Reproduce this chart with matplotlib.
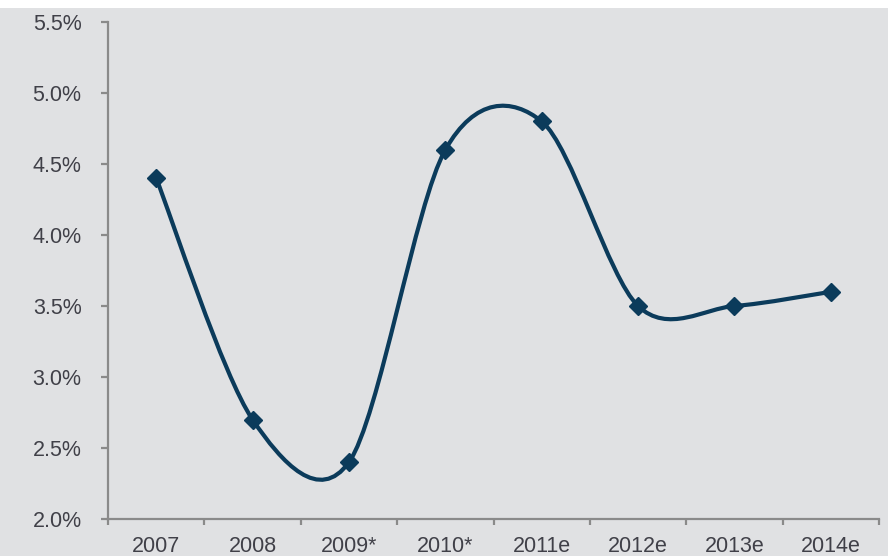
import numpy as np
import matplotlib.pyplot as plt
from matplotlib.path import Path
from matplotlib.patches import PathPatch, Rectangle
from matplotlib.ticker import FixedLocator, FuncFormatter

plt.rcParams['font.family'] = ['Liberation Sans', 'DejaVu Sans']

# Data
years = ['2007', '2008', '2009*', '2010*', '2011e', '2012e', '2013e', '2014e']
growth = [4.4, 2.7, 2.4, 4.6, 4.8, 3.5, 3.5, 3.6]

bg = '#e0e1e3'
navy = '#0b3b5b'
axis_gray = '#8a8a8a'
text_col = '#404048'

fig = plt.figure(figsize=(8.88, 5.56), dpi=100, facecolor=bg)
ax = fig.add_axes([108 / 888, 37 / 556, 771 / 888, 497 / 556])
ax.set_facecolor(bg)

x = np.arange(len(years), dtype=float)
y = np.array(growth)

# smoothed line (Excel-style bezier through the points)
k = 0.155
px = np.concatenate([[x[0]], x, [x[-1]]])
py = np.concatenate([[y[0]], y, [y[-1]]])
verts = [(x[0], y[0])]
codes = [Path.MOVETO]
for i in range(1, len(px) - 2):
    c1 = (px[i] + (px[i + 1] - px[i - 1]) * k, py[i] + (py[i + 1] - py[i - 1]) * k)
    c2 = (px[i + 1] - (px[i + 2] - px[i]) * k, py[i + 1] - (py[i + 2] - py[i]) * k)
    verts += [c1, c2, (px[i + 1], py[i + 1])]
    codes += [Path.CURVE4] * 3
ax.add_patch(PathPatch(Path(verts, codes), facecolor='none', edgecolor=navy,
                       lw=3.0, capstyle='round', joinstyle='round', zorder=3))
ax.plot(x, y, linestyle='none', marker='D', markersize=9.5, color=navy, zorder=4)

ax.set_xlim(-0.5, len(years) - 0.5)
ax.set_ylim(2.0, 5.5)
ax.set_yticks(np.arange(2.0, 5.51, 0.5))
ax.yaxis.set_major_formatter(FuncFormatter(lambda v, p: f'{v:.1f}%'))

ax.set_xticks(x)
ax.set_xticklabels(years)
ax.xaxis.set_minor_locator(FixedLocator(np.arange(-0.5, len(years), 1.0)))

for s in ['top', 'right']:
    ax.spines[s].set_visible(False)
for s in ['left', 'bottom']:
    ax.spines[s].set_color(axis_gray)
    ax.spines[s].set_linewidth(1.6)

ax.tick_params(axis='x', which='major', length=0, pad=12, labelsize=15.5, labelcolor=text_col)
ax.tick_params(axis='x', which='minor', length=4, width=1.6, color=axis_gray, direction='out')
ax.tick_params(axis='y', length=5, width=1.6, color=axis_gray, pad=14,
               labelsize=15.5, labelcolor=text_col)

fig.add_artist(Rectangle((0, 1 - 8 / 556), 1, 8 / 556, transform=fig.transFigure,
                         facecolor='white', edgecolor='none'))

fig.savefig('out.png', dpi=100, facecolor=bg)
